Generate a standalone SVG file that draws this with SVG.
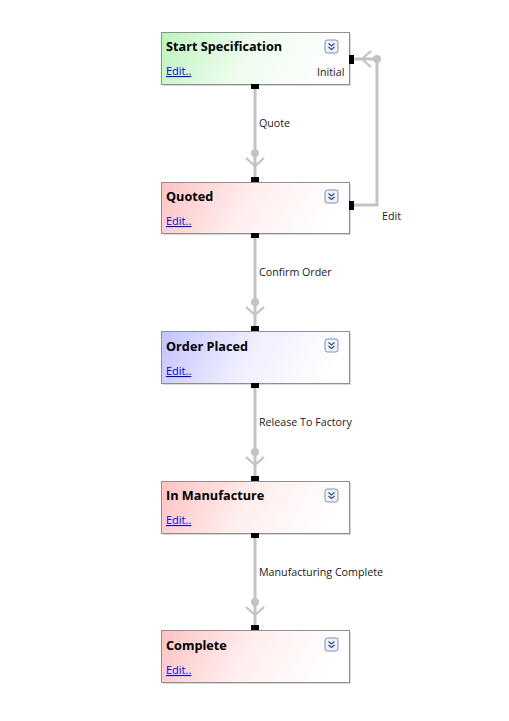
<svg xmlns="http://www.w3.org/2000/svg" width="509" height="721" viewBox="0 0 509 721">
<defs>
  <linearGradient id="gGreen" x1="0" y1="0" x2="1" y2="0.15">
    <stop offset="0" stop-color="#bdf4bd"/>
    <stop offset="0.5" stop-color="#eefcee"/>
    <stop offset="1" stop-color="#ffffff"/>
  </linearGradient>
  <linearGradient id="gRed" x1="0" y1="0" x2="1" y2="0.15">
    <stop offset="0" stop-color="#ffc2c2"/>
    <stop offset="0.5" stop-color="#ffeeee"/>
    <stop offset="1" stop-color="#ffffff"/>
  </linearGradient>
  <linearGradient id="gBlue" x1="0" y1="0" x2="1" y2="0.15">
    <stop offset="0" stop-color="#c2c2ff"/>
    <stop offset="0.5" stop-color="#eeeeff"/>
    <stop offset="1" stop-color="#ffffff"/>
  </linearGradient>
  <g id="icon">
    <rect x="0" y="0" width="13" height="13" rx="2.5" fill="#eef2fb" stroke="#7d8fb8" stroke-width="1"/>
    <path d="M3.5 3.5 L6.5 6 L9.5 3.5 M3.5 7 L6.5 9.5 L9.5 7" fill="none" stroke="#3a4f86" stroke-width="1.3"/>
  </g>
</defs>
<style>
  .box { stroke: #8f8f8f; stroke-width: 1; }
  .shadow { fill: #d8d8d8; }
  .title { font-family: "Open Sans", "Noto Sans", sans-serif; font-weight: bold; font-size: 12.7px; fill: #000; }
  .edit { font-family: "Open Sans", "Noto Sans", sans-serif; font-size: 11px; fill: #0000ee; text-decoration: underline; }
  .lbl { font-family: "Open Sans", "Noto Sans", sans-serif; font-size: 10.7px; fill: #1a1a1a; }
  .wire { fill: none; stroke: #c3c3c3; stroke-width: 3; }
  .head { fill: none; stroke: #c3c3c3; stroke-width: 2.2; }
  .dot { fill: #c3c3c3; }
  .port { fill: #000; }
</style>
<rect width="509" height="721" fill="#ffffff"/>

<g id="connectors">
  <g id="c-quote">
    <line class="wire" x1="255" y1="89" x2="255" y2="177"/>
    <circle class="dot" cx="255" cy="153" r="4"/>
    <path class="head" d="M246 158 L255 166 L264 158"/>
    <text class="lbl" x="259" y="127">Quote</text>
  </g>
  <g id="c-confirm">
    <line class="wire" x1="255" y1="238" x2="255" y2="326"/>
    <circle class="dot" cx="255" cy="302" r="4"/>
    <path class="head" d="M246 307 L255 315 L264 307"/>
    <text class="lbl" x="259" y="276">Confirm Order</text>
  </g>
  <g id="c-release">
    <line class="wire" x1="255" y1="388" x2="255" y2="476"/>
    <circle class="dot" cx="255" cy="452" r="4"/>
    <path class="head" d="M246 457 L255 465 L264 457"/>
    <text class="lbl" x="259" y="426">Release To Factory</text>
  </g>
  <g id="c-mfg">
    <line class="wire" x1="255" y1="538" x2="255" y2="625"/>
    <circle class="dot" cx="255" cy="602" r="4"/>
    <path class="head" d="M246 607 L255 615 L264 607"/>
    <text class="lbl" x="259" y="576">Manufacturing Complete</text>
  </g>
  <g id="c-edit">
    <polyline class="wire" points="354,205 377,205 377,59 354,59"/>
    <circle class="dot" cx="377" cy="59" r="4"/>
    <path class="head" d="M371 51 L362 59 L371 67"/>
    <text class="lbl" x="382" y="220">Edit</text>
  </g>
</g>

<g id="n-start">
  <rect class="shadow" x="163" y="34" width="188" height="52"/>
  <rect class="box" x="161.5" y="32.5" width="188" height="52" fill="url(#gGreen)"/>
  <text class="title" x="166" y="51">Start Specification</text>
  <text class="edit" x="166" y="75">Edit..</text>
  <text class="lbl" x="317" y="76">Initial</text>
  <use href="#icon" x="325" y="40"/>
  <rect class="port" x="251" y="84" width="8" height="5"/>
  <rect class="port" x="349" y="55" width="5" height="9"/>
</g>

<g id="n-quoted">
  <rect class="shadow" x="163" y="184" width="188" height="51"/>
  <rect class="box" x="161.5" y="182.5" width="188" height="51" fill="url(#gRed)"/>
  <text class="title" x="166" y="201">Quoted</text>
  <text class="edit" x="166" y="225">Edit..</text>
  <use href="#icon" x="325" y="190"/>
  <rect class="port" x="251" y="177" width="8" height="5"/>
  <rect class="port" x="251" y="233" width="8" height="5"/>
  <rect class="port" x="349" y="201" width="5" height="9"/>
</g>

<g id="n-order">
  <rect class="shadow" x="163" y="333" width="188" height="52"/>
  <rect class="box" x="161.5" y="331.5" width="188" height="52" fill="url(#gBlue)"/>
  <text class="title" x="166" y="351">Order Placed</text>
  <text class="edit" x="166" y="375">Edit..</text>
  <use href="#icon" x="325" y="339"/>
  <rect class="port" x="251" y="326" width="8" height="5"/>
  <rect class="port" x="251" y="383" width="8" height="5"/>
</g>

<g id="n-manufacture">
  <rect class="shadow" x="163" y="483" width="188" height="52"/>
  <rect class="box" x="161.5" y="481.5" width="188" height="52" fill="url(#gRed)"/>
  <text class="title" x="166" y="500">In Manufacture</text>
  <text class="edit" x="166" y="524">Edit..</text>
  <use href="#icon" x="325" y="489"/>
  <rect class="port" x="251" y="476" width="8" height="5"/>
  <rect class="port" x="251" y="533" width="8" height="5"/>
</g>

<g id="n-complete">
  <rect class="shadow" x="163" y="632" width="188" height="52"/>
  <rect class="box" x="161.5" y="630.5" width="188" height="52" fill="url(#gRed)"/>
  <text class="title" x="166" y="650">Complete</text>
  <text class="edit" x="166" y="674">Edit..</text>
  <use href="#icon" x="325" y="638"/>
  <rect class="port" x="251" y="625" width="8" height="5"/>
</g>
</svg>
